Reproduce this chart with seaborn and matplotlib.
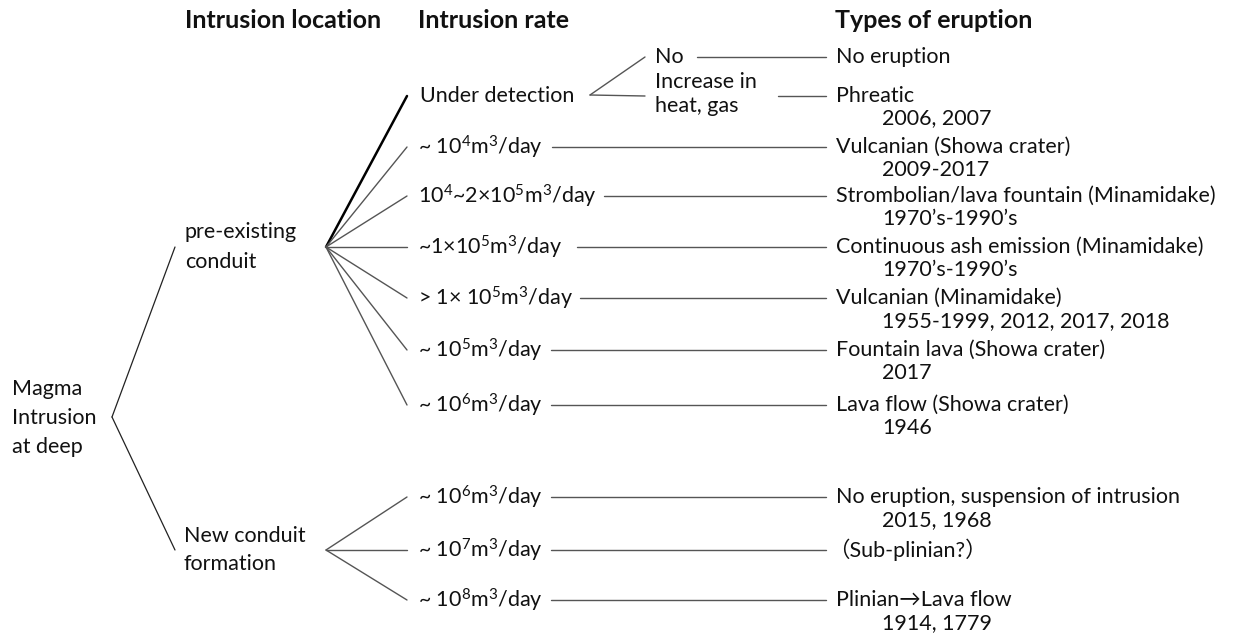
import pandas as pd
import seaborn as sns
import matplotlib.pyplot as plt

sns.set_theme(style='white')
plt.rcParams['font.family'] = ['Lato', 'Noto Sans CJK JP', 'DejaVu Sans']
plt.rcParams['mathtext.fontset'] = 'custom'
plt.rcParams['mathtext.rm'] = 'Lato'
plt.rcParams['mathtext.it'] = 'Lato:italic'
plt.rcParams['mathtext.bf'] = 'Lato:bold'

# Texts of the diagram
headers = ['Intrusion location', 'Intrusion rate', 'Types of eruption']
root_label = 'Magma\nIntrusion\nat deep'
locations = ['pre-existing\nconduit', 'New conduit\nformation']
rates = ['Under detection',
         r'~ $10^{4}$m$^{3}$/day',
         r'$10^{4}$~2×$10^{5}$m$^{3}$/day',
         r'~1×$10^{5}$m$^{3}$/day',
         r'> 1× $10^{5}$m$^{3}$/day',
         r'~ $10^{5}$m$^{3}$/day',
         r'~ $10^{6}$m$^{3}$/day',
         r'~ $10^{6}$m$^{3}$/day',
         r'~ $10^{7}$m$^{3}$/day',
         r'~ $10^{8}$m$^{3}$/day']
rate_location = [0, 0, 0, 0, 0, 0, 0, 1, 1, 1]
detection = ['No', 'Increase in\nheat, gas']
detection_types = ['No eruption', 'Phreatic']
detection_years = ['', '2006, 2007']
eruptions = ['', 'Vulcanian (Showa crater)',
             'Strombolian/lava fountain (Minamidake)',
             'Continuous ash emission (Minamidake)',
             'Vulcanian (Minamidake)',
             'Fountain lava (Showa crater)',
             'Lava flow (Showa crater)',
             'No eruption, suspension of intrusion',
             '（Sub-plinian?）',
             'Plinian→Lava flow']
years = ['', '2009-2017', '1970’s-1990’s', '1970’s-1990’s',
         '1955-1999, 2012, 2017, 2018', '2017', '1946', '2015, 1968', '',
         '1914, 1779']

# Layout (pixel coordinates)
row_y = [96, 147, 196, 247, 298, 350, 405, 497, 550, 600]
row_line_start = [None, 552, 604, 577, 580, 551, 551, 551, 551, 551]
loc_y = [247, 550]
det_y = [57, 96]
det_text_y = [57, 94]
det_line_start = [697, 778]
x_root, x_loc, x_fan, x_rate, x_line_end, x_type, x_year = 112, 175, 326, 407, 826, 836, 882
fs = 15.5
fs_head = 18
line_gap = 29

segs = []
for k, ly in enumerate(loc_y):
    segs.append((x_root, 417, x_loc, ly, 'root'))
for i, y in enumerate(row_y):
    segs.append((x_fan, loc_y[rate_location[i]], x_rate, y, 'bold' if i == 0 else 'thin'))
    if row_line_start[i] is not None:
        segs.append((row_line_start[i], y, x_line_end, y, 'thin'))
for j, y in enumerate(det_y):
    segs.append((590, 95, 645, y, 'thin'))
    segs.append((det_line_start[j], y, x_line_end, y, 'thin'))

rows = []
for n, (x0, y0, x1, y1, kind) in enumerate(segs):
    rows.append({'seg': n, 'x': x0, 'y': y0, 'kind': kind})
    rows.append({'seg': n, 'x': x1, 'y': y1, 'kind': kind})
df = pd.DataFrame(rows)

fig = plt.figure(figsize=(12.51, 6.39), dpi=100)
ax = fig.add_axes([0, 0, 1, 1])
sns.lineplot(data=df, x='x', y='y', units='seg', estimator=None, sort=False,
             hue='kind', size='kind',
             palette={'root': '#222222', 'bold': '#000000', 'thin': '#555555'},
             sizes={'root': 0.9, 'bold': 1.8, 'thin': 1.0},
             legend=False, ax=ax)
ax.set_xlim(0, 1251)
ax.set_ylim(639, 0)
ax.axis('off')

tc = '#111111'


def put(x, y, s, gap=line_gap, **kw):
    lines = s.split('\n')
    top = y - (len(lines) - 1) * gap / 2
    for i, t in enumerate(lines):
        ax.text(x, top + i * gap, t, ha='left', va='center', fontsize=fs, color=tc, **kw)


for x, h in zip([185, 418, 835], headers):
    ax.text(x, 21, h, ha='left', va='center', fontsize=fs_head, fontweight='bold', color=tc)

put(12, 418, root_label)
put(185, loc_y[0], locations[0])
put(184, loc_y[1], locations[1])
for i, y in enumerate(row_y):
    put(418 if i > 0 else 420, y, rates[i])
    if eruptions[i]:
        put(x_type - 8 if eruptions[i].startswith('（') else x_type, y, eruptions[i])
    if years[i]:
        put(x_year, y + 23, years[i])
for j, y in enumerate(det_y):
    put(655, det_text_y[j], detection[j], gap=23)
    put(x_type, y, detection_types[j])
    if detection_years[j]:
        put(x_year, y + 22, detection_years[j])

fig.savefig('out.png', dpi=100)
